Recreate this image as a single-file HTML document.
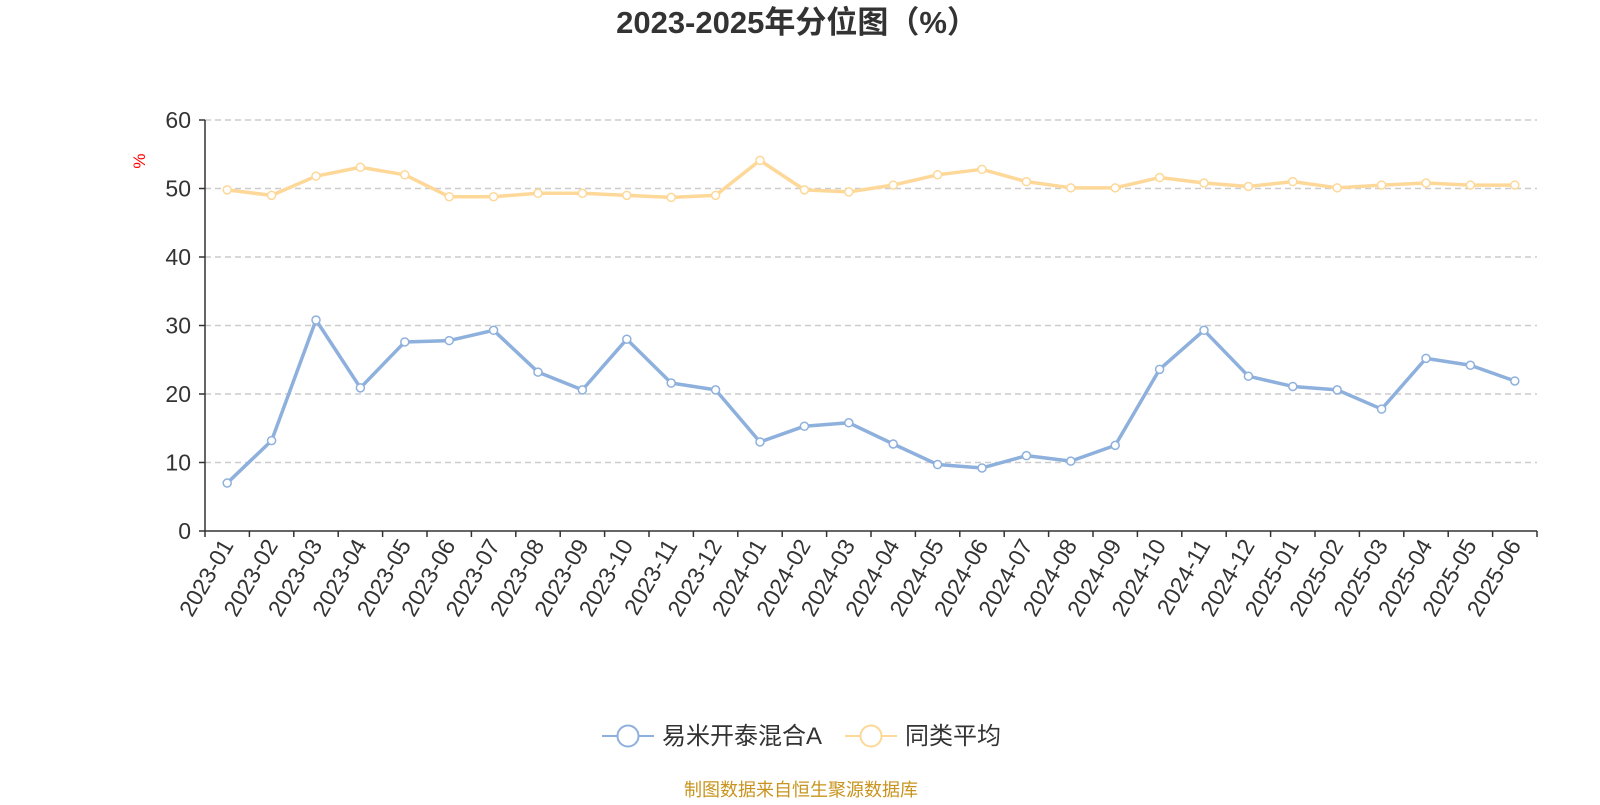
<!DOCTYPE html>
<html><head><meta charset="utf-8"><style>
body{margin:0;background:#fff;width:1600px;height:800px;overflow:hidden;font-family:"Liberation Sans","Noto Sans CJK SC",sans-serif}
</style></head><body>
<svg id="c" width="1600" height="800" xmlns="http://www.w3.org/2000/svg">
<text x="797" y="33" text-anchor="middle" font-size="31" font-weight="bold" fill="#333" font-family="Liberation Sans,Noto Sans CJK SC,sans-serif">2023-2025年分位图（%）</text>
<text x="145" y="161" font-size="17" fill="#f00" transform="rotate(-90 145 161)" text-anchor="middle">%</text>
<g id="grid"></g><g id="axes"></g><g id="series"></g>
<g>
<g>
<line x1="602" y1="736" x2="654" y2="736" stroke="#8eb0dd" stroke-width="2"/><circle cx="628" cy="736" r="10.5" fill="#fff" stroke="#8eb0dd" stroke-width="2"/>
<text x="662" y="744" font-size="24" fill="#333" font-family="Liberation Sans,Noto Sans CJK SC,sans-serif">易米开泰混合A</text></g>
<g>
<line x1="845" y1="736" x2="897" y2="736" stroke="#fdd898" stroke-width="2"/><circle cx="871" cy="736" r="10.5" fill="#fff" stroke="#fdd898" stroke-width="2"/>
<text x="905" y="744" font-size="24" fill="#333" font-family="Liberation Sans,Noto Sans CJK SC,sans-serif">同类平均</text></g>
</g>
<text x="801" y="796" text-anchor="middle" font-size="18" fill="#c8941e" font-family="Liberation Sans,Noto Sans CJK SC,sans-serif">制图数据来自恒生聚源数据库</text>
</svg>
<script>
const categories=["2023-01","2023-02","2023-03","2023-04","2023-05","2023-06","2023-07","2023-08","2023-09","2023-10","2023-11","2023-12","2024-01","2024-02","2024-03","2024-04","2024-05","2024-06","2024-07","2024-08","2024-09","2024-10","2024-11","2024-12","2025-01","2025-02","2025-03","2025-04","2025-05","2025-06"];
const fundValues=[7,13.2,30.8,20.9,27.6,27.8,29.3,23.2,20.6,28,21.6,20.6,13,15.3,15.8,12.7,9.7,9.2,11,10.2,12.5,23.6,29.3,22.6,21.1,20.6,17.8,25.2,24.2,21.9];
const avgValues=[49.8,49,51.8,53.1,52,48.8,48.8,49.3,49.3,49,48.7,49,54.1,49.8,49.5,50.5,52,52.8,51,50.1,50.1,51.6,50.8,50.3,51,50.1,50.5,50.8,50.5,50.5];
const yTicks=[0,10,20,30,40,50,60];
const NS="http://www.w3.org/2000/svg";
const X0=205,X1=1537,Y0=531,Y1=120,YMAX=60;
const bw=(X1-X0)/categories.length;
const xPos=i=>X0+bw*(i+0.5);
const yPos=v=>Y0-(v/YMAX)*(Y0-Y1);
function mk(tag,attrs,parent){const e=document.createElementNS(NS,tag);for(const k in attrs)e.setAttribute(k,attrs[k]);parent.appendChild(e);return e;}
const grid=document.getElementById('grid'),axes=document.getElementById('axes'),series=document.getElementById('series');
yTicks.forEach(t=>{
  const y=yPos(t);
  if(t>0){const l=mk('line',{x1:X0,x2:X1,y1:y,y2:y,stroke:'#ccc','stroke-width':1.5,'stroke-dasharray':'6,4'},grid);
  
  }
  const tl=mk('text',{x:X0-14,y:y+8,'text-anchor':'end','font-size':23,fill:'#333'},axes);
  tl.textContent=t;
  
  
  mk('line',{x1:X0-6,x2:X0,y1:y,y2:y,stroke:'#333','stroke-width':1.5},axes);
});
const ya=mk('line',{x1:X0,x2:X0,y1:Y1,y2:Y0,stroke:'#333','stroke-width':1.5},axes);


const xa=mk('line',{x1:X0,x2:X1,y1:Y0,y2:Y0,stroke:'#333','stroke-width':1.5},axes);


for(let i=0;i<=categories.length;i++){const x=X0+bw*i;mk('line',{x1:x,x2:x,y1:Y0,y2:Y0+6,stroke:'#333','stroke-width':1.5},axes);}
categories.forEach((c,i)=>{
  const x=xPos(i)+7,y=Y0+14;
  const t=mk('text',{x:x,y:y,'text-anchor':'end','font-size':23,fill:'#333',transform:`rotate(-60 ${x} ${y})`},axes);
  t.textContent=c;
  
  
});
function draw(vals,color,name){
  const p=mk('polyline',{points:vals.map((v,i)=>xPos(i)+','+yPos(v)).join(' '),fill:'none',stroke:color,'stroke-width':3.5,'stroke-linejoin':'round'},series);
  
  
  vals.forEach((v,i)=>{const c=mk('circle',{cx:xPos(i),cy:yPos(v),r:4,fill:'#fff',stroke:color,'stroke-width':1.5},series);
  
  });
}
draw(avgValues,'#fdd898','average');
draw(fundValues,'#8eb0dd','fund');
</script>
</body></html>
